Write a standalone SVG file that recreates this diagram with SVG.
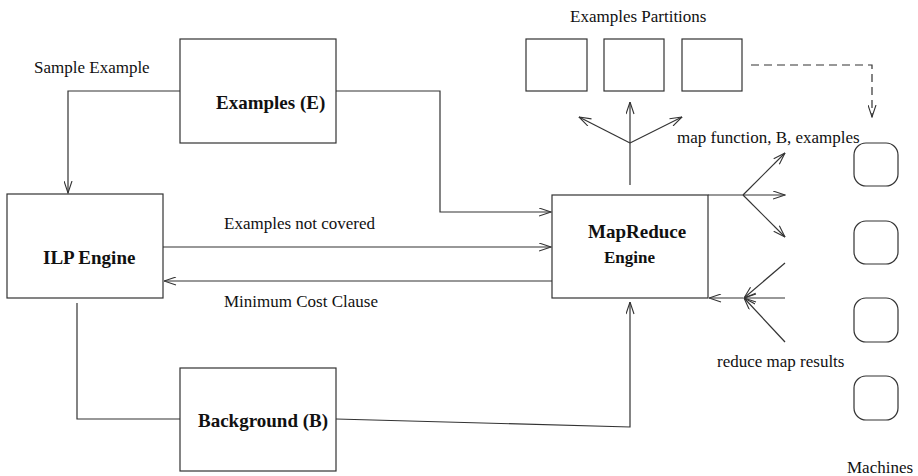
<svg xmlns="http://www.w3.org/2000/svg" width="918" height="476" viewBox="0 0 918 476">
<defs>
<style>
.box{fill:#fff;stroke:#333;stroke-width:1.2}
.ln{fill:none;stroke:#333;stroke-width:1.2}
text{font-family:'Liberation Serif','Times New Roman','DejaVu Serif',serif;fill:#111}
.t{font-size:17px}
.b{font-size:19px;font-weight:bold}
</style>
<marker id="a" viewBox="0 0 13 9" refX="12.5" refY="4.5" markerWidth="13" markerHeight="9" markerUnits="userSpaceOnUse" orient="auto">
<path d="M0.5,0.5 L12.5,4.5 L0.5,8.5" fill="none" stroke="#333" stroke-width="1.1"/>
</marker>
</defs>
<rect width="918" height="476" fill="#fff"/>
<g id="connectors">
<polyline class="ln" points="180,91 68,91 68,193" marker-end="url(#a)"/>
<polyline class="ln" points="336,91 440,91 440,212 551,212" marker-end="url(#a)"/>
<line class="ln" x1="163" y1="247" x2="551" y2="247" marker-end="url(#a)"/>
<line class="ln" x1="552" y1="281" x2="164" y2="281" marker-end="url(#a)"/>
<polyline class="ln" points="77,303 77,419 180,419"/>
<polyline class="ln" points="336,419 630,427 630,302" marker-end="url(#a)"/>
<line class="ln" x1="630" y1="185" x2="630" y2="102" marker-end="url(#a)"/>
<line class="ln" x1="630" y1="143" x2="579" y2="117" marker-end="url(#a)"/>
<line class="ln" x1="630" y1="143" x2="682" y2="117" marker-end="url(#a)"/>
<line class="ln" x1="708" y1="195" x2="785" y2="195" marker-end="url(#a)"/>
<line class="ln" x1="743" y1="195" x2="785" y2="153" marker-end="url(#a)"/>
<line class="ln" x1="743" y1="195" x2="785" y2="237" marker-end="url(#a)"/>
<line class="ln" x1="785" y1="298" x2="744" y2="298" marker-end="url(#a)"/>
<line class="ln" x1="785" y1="263" x2="744" y2="298" marker-end="url(#a)"/>
<line class="ln" x1="785" y1="342" x2="744" y2="298" marker-end="url(#a)"/>
<line class="ln" x1="743" y1="298" x2="709" y2="298" marker-end="url(#a)"/>
<polyline class="ln" points="751,65 872,65 872,117" stroke-dasharray="8,5" marker-end="url(#a)"/>
</g>
<g id="examples">
<rect class="box" x="180" y="39" width="156" height="104"/>
<text class="b" x="216" y="109">Examples (E)</text>
</g>
<g id="ilp-engine">
<rect class="box" x="7" y="194" width="156" height="104"/>
<text class="b" x="43" y="264">ILP Engine</text>
</g>
<g id="background">
<rect class="box" x="180" y="368" width="156" height="103"/>
<text class="b" x="198" y="427">Background (B)</text>
</g>
<g id="mapreduce">
<rect class="box" x="552" y="195" width="156" height="103"/>
<text class="b" x="588" y="238">MapReduce</text>
<text class="b" x="604" y="263" style="font-size:17px">Engine</text>
</g>
<g id="partitions">
<rect class="box" x="526" y="39" width="61" height="52"/>
<rect class="box" x="604" y="39" width="60" height="52"/>
<rect class="box" x="682" y="39" width="60" height="52"/>
<text class="t" x="570" y="22">Examples Partitions</text>
</g>
<g id="machines">
<rect class="box" x="854" y="143" width="44" height="43" rx="12"/>
<rect class="box" x="854" y="221" width="44" height="43" rx="12"/>
<rect class="box" x="854" y="298" width="44" height="44" rx="12"/>
<rect class="box" x="854" y="376" width="44" height="44" rx="12"/>
<text class="t" x="847" y="473">Machines</text>
</g>
<g id="labels">
<text class="t" x="34" y="73">Sample Example</text>
<text class="t" x="224" y="229">Examples not covered</text>
<text class="t" x="224" y="307">Minimum Cost Clause</text>
<text class="t" x="677" y="143">map function, B, examples</text>
<text class="t" x="717" y="367">reduce map results</text>
</g>
</svg>
